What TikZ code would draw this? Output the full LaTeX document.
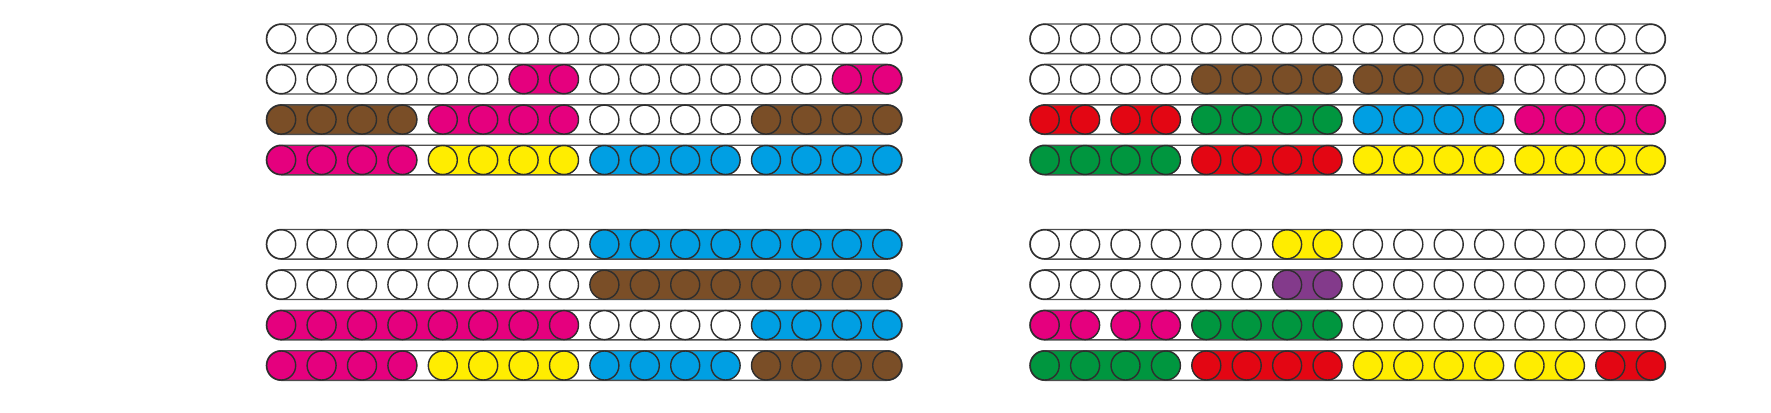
\documentclass[tikz,border=0pt]{standalone}
\usetikzlibrary{positioning}
\definecolor{beadpink}{HTML}{E5007E}
\definecolor{beadbrown}{HTML}{7A4E27}
\definecolor{beadyellow}{HTML}{FFED00}
\definecolor{beadblue}{HTML}{009FE3}
\definecolor{beadred}{HTML}{E30613}
\definecolor{beadgreen}{HTML}{00963F}
\definecolor{beadpurple}{HTML}{833A8B}
\definecolor{rim}{HTML}{2E2E2E}
\tikzset{
  bead/.style={circle, draw=rim, line width=0.4pt, minimum size=2.9mm, inner sep=0pt},
  band/.style={rounded corners=1.48mm},
  rail/.style={draw=rim!85, line width=0.4pt, rounded corners=1.48mm}
}
% one row of 16 beads: name, first x, y, groups first/last/colour
\newcommand{\beadrow}[4]{%
  \foreach \a/\b/\c in {#4} {
    \pgfmathsetmacro\xl{#2+(\a-1)*40.4-14.8}
    \pgfmathsetmacro\xr{#2+(\b-1)*40.4+14.8}
    \fill[band, fill=\c] (\xl,#3-14.8) rectangle (\xr,#3+14.8);
  }
  \draw[rail] ({#2-14.8},#3-14.8) rectangle ({#2+15*40.4+14.8},#3+14.8);
  \foreach \a/\b/\c in {#4} {
    \foreach \i in {\a,...,\b}
      \node[bead, fill=\c] (#1-\i) at ({#2+(\i-1)*40.4},#3) {};
  }
}

\begin{document}
\begin{tikzpicture}[x=0.1mm, y=-0.1mm]
  \useasboundingbox (0,0) rectangle (1771,412);
  % top left
  \beadrow{tl1}{281.2}{38.8}{1/16/white}
  \beadrow{tl2}{281.2}{79.2}{1/6/white, 7/8/beadpink, 9/14/white, 15/16/beadpink}
  \beadrow{tl3}{281.2}{119.6}{1/4/beadbrown, 5/8/beadpink, 9/12/white, 13/16/beadbrown}
  \beadrow{tl4}{281.2}{160}{1/4/beadpink, 5/8/beadyellow, 9/12/beadblue, 13/16/beadblue}
  % top right
  \beadrow{tr1}{1044.7}{38.8}{1/16/white}
  \beadrow{tr2}{1044.7}{79.2}{1/4/white, 5/8/beadbrown, 9/12/beadbrown, 13/16/white}
  \beadrow{tr3}{1044.7}{119.6}{1/2/beadred, 3/4/beadred, 5/8/beadgreen, 9/12/beadblue, 13/16/beadpink}
  \beadrow{tr4}{1044.7}{160}{1/4/beadgreen, 5/8/beadred, 9/12/beadyellow, 13/16/beadyellow}
  % bottom left
  \beadrow{bl1}{281.2}{244.3}{1/8/white, 9/16/beadblue}
  \beadrow{bl2}{281.2}{284.7}{1/8/white, 9/16/beadbrown}
  \beadrow{bl3}{281.2}{325.1}{1/8/beadpink, 9/12/white, 13/16/beadblue}
  \beadrow{bl4}{281.2}{365.5}{1/4/beadpink, 5/8/beadyellow, 9/12/beadblue, 13/16/beadbrown}
  % bottom right
  \beadrow{br1}{1044.7}{244.3}{1/6/white, 7/8/beadyellow, 9/16/white}
  \beadrow{br2}{1044.7}{284.7}{1/6/white, 7/8/beadpurple, 9/16/white}
  \beadrow{br3}{1044.7}{325.1}{1/2/beadpink, 3/4/beadpink, 5/8/beadgreen, 9/16/white}
  \beadrow{br4}{1044.7}{365.5}{1/4/beadgreen, 5/8/beadred, 9/12/beadyellow, 13/14/beadyellow, 15/16/beadred}
\end{tikzpicture}
\end{document}
